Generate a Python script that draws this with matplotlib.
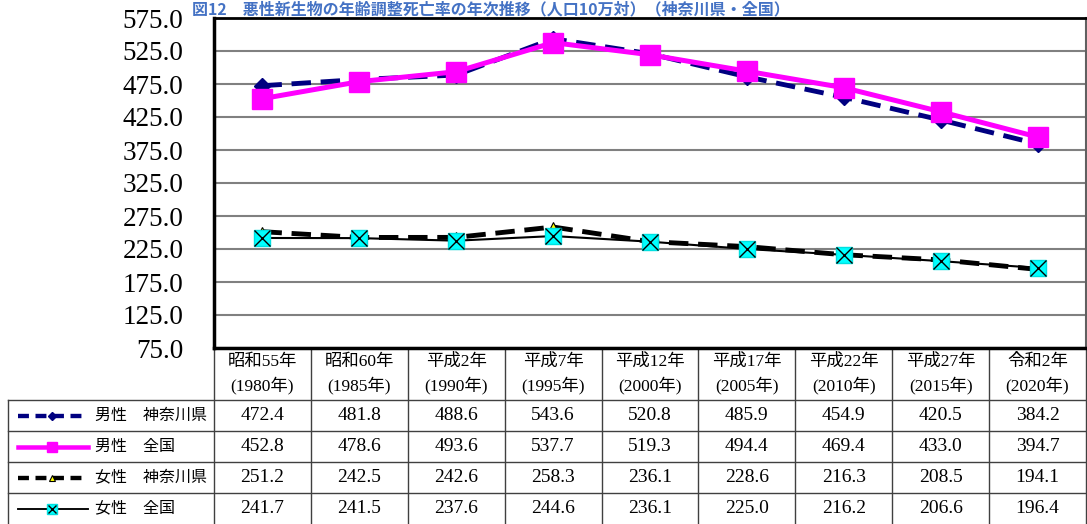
import numpy as np
import matplotlib.pyplot as plt
from matplotlib.lines import Line2D

# data
years = ['昭和55年\n(1980年)', '昭和60年\n(1985年)', '平成2年\n(1990年)', '平成7年\n(1995年)',
         '平成12年\n(2000年)', '平成17年\n(2005年)', '平成22年\n(2010年)', '平成27年\n(2015年)',
         '令和2年\n(2020年)']
male_kanagawa = [472.4, 481.8, 488.6, 543.6, 520.8, 485.9, 454.9, 420.5, 384.2]
male_japan = [452.8, 478.6, 493.6, 537.7, 519.3, 494.4, 469.4, 433.0, 394.7]
female_kanagawa = [251.2, 242.5, 242.6, 258.3, 236.1, 228.6, 216.3, 208.5, 194.1]
female_japan = [241.7, 241.5, 237.6, 244.6, 236.1, 225.0, 216.2, 206.6, 196.4]
labels = ['男性　神奈川県', '男性　全国', '女性　神奈川県', '女性　全国']
title = '図12　悪性新生物の年齢調整死亡率の年次推移（人口10万対）（神奈川県・全国）'

FONT = ['Liberation Serif', 'Noto Sans CJK JP']
plt.rcParams['font.family'] = FONT

W, H = 1087, 524
fig = plt.figure(figsize=(W / 100, H / 100), dpi=100)

# layout (pixels)
x0, x1 = 214, 1086
top, bottom = 18, 348
ax = fig.add_axes([x0 / W, (H - bottom) / H, (x1 - x0) / W, (bottom - top) / H])

x = np.arange(len(years))
styles = [
    dict(color='#000080', lw=3.5, dashes=(4, 2), marker='D', ms=8, mfc='#000080', mec='#000080'),
    dict(color='#FF00FF', lw=3.6, marker='s', ms=14, mfc='#FF00FF', mec='#FF00FF'),
    dict(color='black', lw=3.5, dashes=(4, 2), marker='^', ms=7, mfc='#FFFF00', mec='black', mew=0.8),
    dict(color='black', lw=1.5, marker='s', ms=12, mfc='#00FFFF', mec='#00E0E0'),
]
series = [male_kanagawa, male_japan, female_kanagawa, female_japan]
zorders = [4, 5, 3, 3.5]
for s, st, z in zip(series, styles, zorders):
    ax.plot(x, s, zorder=z, **st)
ax.plot(x, female_japan, ls='none', marker='x', ms=11, mew=1.0, color='black', zorder=3.6)

ax.set_xlim(-0.5, len(years) - 0.5)
ax.set_ylim(75, 575)
ax.set_yticks(np.arange(75, 576, 50))
ax.set_yticklabels([f'{v:.1f}' for v in np.arange(75, 576, 50)], fontsize=19.5)
ax.tick_params(axis='y', length=0, pad=22)
ax.set_xticks([])
ax.grid(axis='y', color='#808080', lw=1.5, zorder=0)
ax.set_axisbelow(True)
ax.spines['left'].set_linewidth(2.5)
ax.spines['top'].set_linewidth(2)
ax.spines['bottom'].set_linewidth(2.5)
ax.spines['right'].set_color('#606060')
ax.spines['right'].set_linewidth(1.5)

# title squeezed into the strip above the plot
fig.text(192 / W, 1 - 1 / H, title, color='#4472C4', fontsize=11.5, fontweight='bold',
         ha='left', va='top', family=['Noto Sans CJK JP'])

# data table below the chart
tab = fig.add_axes([0, 0, 1, 1], zorder=-1)
tab.set_xlim(0, W)
tab.set_ylim(H, 0)
tab.axis('off')

cw = (x1 - x0) / len(years)
head_bot = 400
row_h = 31
lc = '#404040'
for k in range(len(years) + 1):
    tab.plot([x0 + k * cw] * 2, [bottom, H], color=lc, lw=1)
for r in range(len(series)):
    tab.plot([8, W], [head_bot + r * row_h] * 2, color=lc, lw=1)
tab.plot([8, 8], [head_bot, H], color=lc, lw=1)

for i, yl in enumerate(years):
    cx = x0 + (i + 0.5) * cw
    l1, l2 = yl.split('\n')
    tab.text(cx, 362, l1, ha='center', va='center', fontsize=12.5)
    tab.text(cx, 385, l2, ha='center', va='center', fontsize=12.5)
    for r, s in enumerate(series):
        tab.text(cx, head_bot + (r + 0.5) * row_h, f'{s[i]:.1f}', ha='center', va='center',
                 fontsize=14)

for r, (lab, st) in enumerate(zip(labels, styles)):
    cy = head_bot + (r + 0.5) * row_h
    st2 = dict(st)
    st2['ms'] = st2['ms'] * 0.55
    if 'dashes' in st2:
        st2['dashes'] = (2.5, 1.5)
    st2['lw'] = st2['lw'] * 0.9
    tab.add_line(Line2D([18, 52, 88], [cy, cy, cy], markevery=[1], **st2))
    if r == 3:
        tab.add_line(Line2D([52], [cy], ls='none', marker='x', ms=6, mew=1.0, color='black'))
    tab.text(95, cy, lab, ha='left', va='center', fontsize=11.5)

fig.savefig('out.png', dpi=100)
